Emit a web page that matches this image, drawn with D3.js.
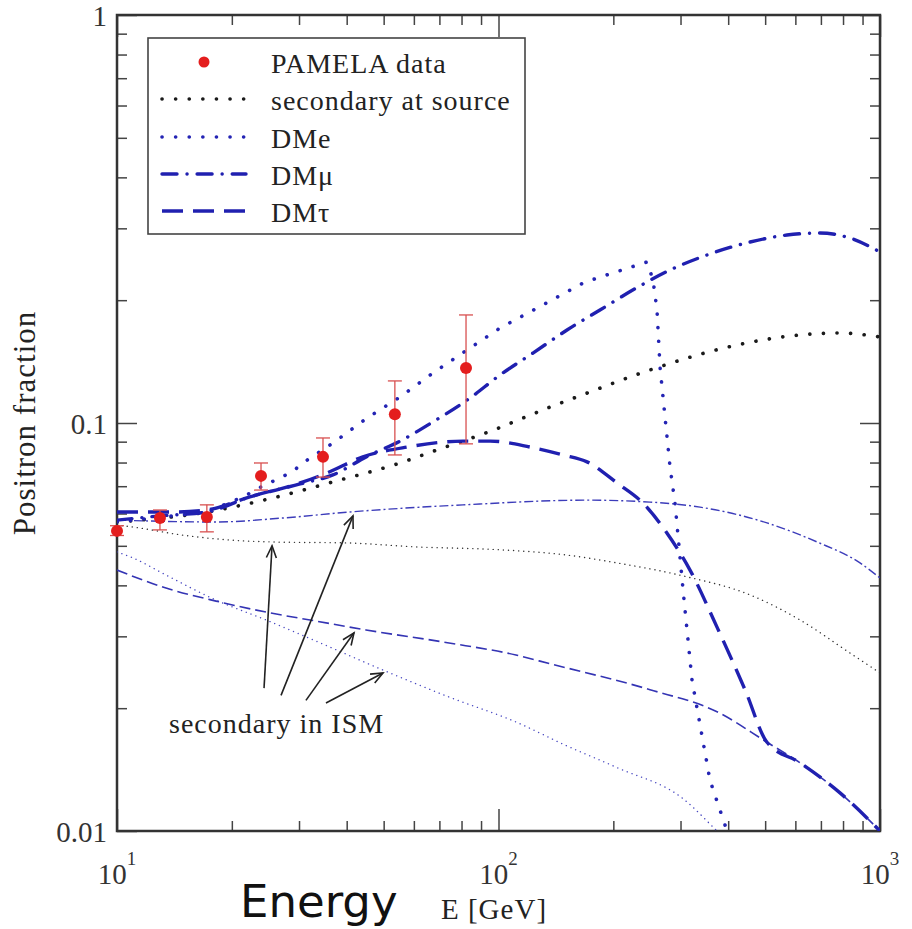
<!DOCTYPE html>
<html lang="en">
<head>
    <meta charset="UTF-8">
    <title>Positron fraction</title>
    <style>
        body { margin: 0; background: #fff; }
        .serif { font-family: "Liberation Serif", "Times New Roman", serif; fill: #222; }
        .tick line { stroke: #444; stroke-width: 1.5; }
    </style>
</head>
<body>
<div id="chart"></div>
<script src="https://d3js.org/d3.v7.min.js"></script>
<script>
    // PAMELA points
    const pamelaE = [10, 12.96, 17.2, 23.85, 34.67, 53.5, 82.2];
    const pamelaFrac = [0.0544, 0.0585, 0.0588, 0.0742, 0.0826, 0.105, 0.1364];
    const pamelaLo = [0.0530, 0.0547, 0.0541, 0.0685, 0.0737, 0.0835, 0.0889];
    const pamelaHi = [0.0560, 0.0612, 0.0630, 0.0798, 0.0919, 0.1268, 0.184];

    // secondary at source
    const srcE = [10, 17.2, 25.6, 36.8, 55.2, 69.0, 93.9, 136.5, 170.6, 249.5, 422, 581, 785, 1000];
    const srcFrac = [0.0572, 0.0605, 0.0655, 0.0717, 0.0798, 0.0859, 0.0950, 0.1094, 0.1184, 0.1349, 0.1553, 0.1634, 0.1662, 0.1625];

    // DMe
    const dmeE = [10, 17.2, 21.4, 23.85, 28.75, 30.7, 36.8, 45.2, 55.2, 67.3, 82.7, 100.9, 126.2, 166.5, 181.3, 245.1, 254.1, 260.3, 265.1, 273.2, 281.6, 290.2, 304.6, 321.6, 358.5, 397.2];
    const dmeFrac = [0.0572, 0.0605, 0.0659, 0.0697, 0.0758, 0.0798, 0.0893, 0.1028, 0.1158, 0.1326, 0.1510, 0.1709, 0.1913, 0.2203, 0.2266, 0.2481, 0.2242, 0.1892, 0.1372, 0.1034, 0.0780, 0.0636, 0.0390, 0.0234, 0.0133, 0.0100];

    // DMmu
    const dmmuE = [10, 12.96, 17.2, 22.3, 30.2, 36.8, 45.0, 55.85, 67.3, 84.2, 100.9, 123.1, 151.2, 184.5, 232.1, 281.6, 352.0, 456.4, 570.5, 696.3, 834.4, 1000];
    const dmmuFrac = [0.0578, 0.0592, 0.0605, 0.0659, 0.0709, 0.0746, 0.0826, 0.0908, 0.1006, 0.1151, 0.1311, 0.1484, 0.1690, 0.1892, 0.2154, 0.2371, 0.2581, 0.2777, 0.2889, 0.2922, 0.2840, 0.2625];

    // DMtau
    const dmtauE = [10, 14.28, 17.2, 22.3, 30.2, 35.5, 44.1, 57.55, 80.7, 95.0, 120.9, 147.6, 170.6, 204.5, 239.3, 276.6, 317.7, 373.9, 442.8, 505.6, 617.1, 785.5, 1000];
    const dmtauFrac = [0.0605, 0.0605, 0.0612, 0.0659, 0.0713, 0.0754, 0.0826, 0.0873, 0.0903, 0.0903, 0.0873, 0.0835, 0.0803, 0.0713, 0.0636, 0.0537, 0.0436, 0.0316, 0.0222, 0.0165, 0.0147, 0.0124, 0.0100];

    // secondary in ISM (thin curves)
    const ismMuE = [10, 18.18, 27.23, 40.56, 80.7, 170.6, 249.5, 337.5, 505.6, 683.9, 886.3, 1000];
    const ismMuFrac = [0.0578, 0.0572, 0.0585, 0.0605, 0.0630, 0.0647, 0.0640, 0.0622, 0.0569, 0.0511, 0.0454, 0.0417];

    const ismSrcE = [10, 11.01, 14.89, 20.14, 25.64, 40.56, 60.77, 100.9, 150.3, 204.5, 304.6, 456.4, 617.1, 834.4, 1000];
    const ismSrcFrac = [0.0562, 0.0556, 0.0531, 0.0516, 0.0511, 0.0508, 0.0497, 0.0489, 0.0475, 0.0454, 0.0422, 0.0379, 0.0329, 0.0273, 0.0244];

    const ismTauE = [10, 13.44, 18.18, 24.58, 33.24, 44.95, 74.18, 111.1, 136.5, 249.5, 373.9, 505.6, 617.1, 785.5, 1000];
    const ismTauFrac = [0.0436, 0.0394, 0.0366, 0.0344, 0.0327, 0.0311, 0.0289, 0.0270, 0.0257, 0.0222, 0.0196, 0.0165, 0.0147, 0.0124, 0.0100];

    const ismEE = [10, 11.01, 13.44, 18.18, 24.58, 33.24, 49.8, 74.18, 111.1, 150.3, 204.5, 304.6, 373.9, 404.5];
    const ismEFrac = [0.0483, 0.0467, 0.0424, 0.0368, 0.0329, 0.0292, 0.0248, 0.0213, 0.0185, 0.0162, 0.0143, 0.0120, 0.0100, 0.0093];

    // arrows for the "secondary in ISM" note: tail and head, [E, fraction]
    const arrowTails = [[24.29, 0.0224], [26.91, 0.0215], [31.28, 0.0209], [35.30, 0.0206]];
    const arrowHeads = [[25.49, 0.0500], [41.55, 0.0592], [41.80, 0.0306], [49.80, 0.0244]];

    const xMajor = [10, 100, 1000];
    const xExponents = ["1", "2", "3"];
    const yMajor = [0.01, 0.1, 1];
    const yTickLabels = ["0.01", "0.1", "1"];

    const legendLabels = ["PAMELA data", "secondary at source", "DMe", "DM\u03bc", "DM\u03c4"];

    const margin = { top: 15, right: 32, bottom: 98, left: 117 };
    const width = 912 - margin.left - margin.right;
    const height = 929 - margin.top - margin.bottom;

    const x = d3.scaleLog().domain([10, 1000]).range([0, width]);
    const y = d3.scaleLog().domain([0.01, 1]).range([height, 0]);

    const svg = d3.select("#chart")
        .append("svg")
        .attr("width", 912)
        .attr("height", 929)
        .append("g")
        .attr("transform", `translate(${margin.left},${margin.top})`);

    svg.append("defs").append("clipPath")
        .attr("id", "plot-clip")
        .append("rect")
        .attr("width", width)
        .attr("height", height);

    svg.select("defs").append("marker")
        .attr("id", "arrow")
        .attr("viewBox", "-14 -7 16 14")
        .attr("markerWidth", 16)
        .attr("markerHeight", 14)
        .attr("markerUnits", "userSpaceOnUse")
        .attr("orient", "auto")
        .append("path")
        .attr("d", "M-12,-5L0,0L-12,5")
        .attr("fill", "none")
        .attr("stroke", "#222")
        .attr("stroke-width", 1.6);

    // ticks, minor and major, on all four sides pointing inward
    const xMinor = x.ticks().filter(v => !xMajor.includes(v));
    const yMinor = y.ticks().filter(v => !yMajor.some(m => Math.abs(m - v) < 1e-9));

    function drawAxis(axisFn, values, size, transform) {
        const g = svg.append("g")
            .attr("transform", transform)
            .call(axisFn.tickValues(values).tickSize(-size).tickFormat(""));
        g.select(".domain").remove();
    }
    drawAxis(d3.axisBottom(x), xMinor, 10, `translate(0,${height})`);
    drawAxis(d3.axisBottom(x), xMajor, 22, `translate(0,${height})`);
    drawAxis(d3.axisTop(x), xMinor, 10, "translate(0,0)");
    drawAxis(d3.axisTop(x), xMajor, 22, "translate(0,0)");
    drawAxis(d3.axisLeft(y), yMinor, 10, "translate(0,0)");
    drawAxis(d3.axisLeft(y), yMajor, 20, "translate(0,0)");
    drawAxis(d3.axisRight(y), yMinor, 10, `translate(${width},0)`);
    drawAxis(d3.axisRight(y), yMajor, 20, `translate(${width},0)`);

    svg.append("rect")
        .attr("width", width)
        .attr("height", height)
        .attr("fill", "none")
        .attr("stroke", "#333")
        .attr("stroke-width", 2.5);

    // tick labels
    svg.selectAll(".ylab")
        .data(yMajor)
        .enter()
        .append("text")
        .attr("class", "serif")
        .attr("x", -10)
        .attr("y", d => y(d) + 11)
        .attr("text-anchor", "end")
        .style("font-size", "29px")
        .style("fill", "#333")
        .text((d, i) => yTickLabels[i]);

    const xlab = svg.selectAll(".xlab")
        .data(xMajor)
        .enter()
        .append("text")
        .attr("class", "serif")
        .attr("x", d => x(d))
        .attr("y", height + 53)
        .attr("text-anchor", "middle")
        .style("font-size", "29px")
        .style("fill", "#333");
    xlab.append("tspan").text("10");
    xlab.append("tspan")
        .attr("dy", -19)
        .style("font-size", "19px")
        .text((d, i) => xExponents[i]);

    // axis titles
    svg.append("text")
        .attr("class", "serif")
        .attr("transform", `translate(${-82},${y(0.1)}) rotate(-90)`)
        .attr("text-anchor", "middle")
        .style("font-size", "31px")
        .style("letter-spacing", "1px")
        .text("Positron fraction");

    svg.append("text")
        .attr("class", "serif")
        .attr("x", 441 - margin.left)
        .attr("y", height + 88)
        .style("font-size", "29px")
        .style("letter-spacing", "1px")
        .text("E [GeV]");

    svg.append("text")
        .attr("x", 240 - margin.left)
        .attr("y", height + 86)
        .style("font-family", "DejaVu Sans, sans-serif")
        .style("font-size", "45px")
        .style("fill", "#111")
        .text("Energy");

    // curves
    const line = d3.line()
        .x(d => x(d[0]))
        .y(d => y(d[1]));

    const zip = (a, b) => a.map((v, i) => [v, b[i]]);
    const plot = svg.append("g").attr("clip-path", "url(#plot-clip)");

    const curves = [
        { pts: zip(ismSrcE, ismSrcFrac), color: "#333", w: 1.4, dash: "0.1,5", cap: "round" },
        { pts: zip(ismEE, ismEFrac), color: "#4646c0", w: 1.4, dash: "0.1,5", cap: "round" },
        { pts: zip(ismMuE, ismMuFrac), color: "#3c3cba", w: 1.4, dash: "9,3,2,3", cap: "butt" },
        { pts: zip(ismTauE, ismTauFrac), color: "#3434b4", w: 1.6, dash: "11,5", cap: "butt" },
        { pts: zip(srcE, srcFrac), color: "#1a1a1a", w: 3.6, dash: "0.1,13.5", cap: "round" },
        { pts: zip(dmeE, dmeFrac), color: "#2424b4", w: 3.6, dash: "0.1,13.5", cap: "round", linear: true },
        { pts: zip(dmmuE, dmmuFrac), color: "#2020b0", w: 3.4, dash: "15,10,0.1,10", cap: "round" },
        { pts: zip(dmtauE, dmtauFrac), color: "#2020b0", w: 3.4, dash: "21,10", cap: "butt" }
    ];

    curves.forEach(c => {
        line.curve(c.linear ? d3.curveLinear : d3.curveMonotoneX);
        plot.append("path")
            .attr("d", line(c.pts))
            .attr("fill", "none")
            .attr("stroke", c.color)
            .attr("stroke-width", c.w)
            .attr("stroke-dasharray", c.dash)
            .attr("stroke-linecap", c.cap);
    });

    // PAMELA error bars and points
    const errs = svg.append("g");
    pamelaE.forEach((e, i) => {
        const cx = x(e);
        errs.append("line")
            .attr("x1", cx).attr("x2", cx)
            .attr("y1", y(pamelaLo[i])).attr("y2", y(pamelaHi[i]))
            .attr("stroke", "#d85050").attr("stroke-width", 1.3);
        [pamelaLo[i], pamelaHi[i]].forEach(v => {
            errs.append("line")
                .attr("x1", cx - 7).attr("x2", cx + 7)
                .attr("y1", y(v)).attr("y2", y(v))
                .attr("stroke", "#d85050").attr("stroke-width", 1.3);
        });
    });

    svg.selectAll(".pt")
        .data(pamelaE)
        .enter()
        .append("circle")
        .attr("cx", d => x(d))
        .attr("cy", (d, i) => y(pamelaFrac[i]))
        .attr("r", 6)
        .attr("fill", "#e41e1e");

    // annotation
    arrowTails.forEach((t, i) => {
        svg.append("line")
            .attr("x1", x(t[0])).attr("y1", y(t[1]))
            .attr("x2", x(arrowHeads[i][0])).attr("y2", y(arrowHeads[i][1]))
            .attr("stroke", "#222")
            .attr("stroke-width", 1.6)
            .attr("marker-end", "url(#arrow)");
    });

    svg.append("text")
        .attr("class", "serif")
        .attr("x", x(13.69))
        .attr("y", y(0.01739))
        .style("font-size", "28px")
        .style("letter-spacing", "1px")
        .text("secondary in ISM");

    // legend
    const legend = svg.append("g")
        .attr("transform", `translate(${148 - margin.left},${38 - margin.top})`);

    legend.append("rect")
        .attr("width", 377)
        .attr("height", 196)
        .attr("fill", "#fff")
        .attr("stroke", "#444")
        .attr("stroke-width", 1.6);

    const rowY = [24, 61, 99, 136, 173];

    legend.append("circle")
        .attr("cx", 56)
        .attr("cy", rowY[0])
        .attr("r", 5.5)
        .attr("fill", "#e41e1e");

    curves.slice(4).forEach((c, i) => {
        legend.append("line")
            .attr("x1", 14).attr("x2", 98)
            .attr("y1", rowY[i + 1]).attr("y2", rowY[i + 1])
            .attr("stroke", c.color)
            .attr("stroke-width", c.w)
            .attr("stroke-dasharray", c.dash)
            .attr("stroke-linecap", c.cap);
    });

    legend.selectAll(".lt")
        .data(legendLabels)
        .enter()
        .append("text")
        .attr("class", "serif")
        .attr("x", 123)
        .attr("y", (d, i) => rowY[i] + 11)
        .style("font-size", "28px")
        .style("letter-spacing", "1px")
        .text(d => d);
</script>
</body>
</html>
